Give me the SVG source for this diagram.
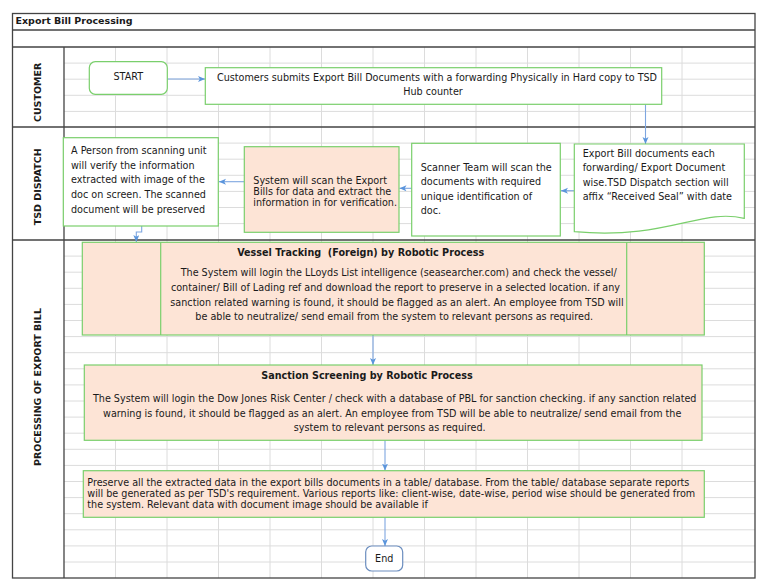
<svg xmlns="http://www.w3.org/2000/svg" width="769" height="587" viewBox="0 0 769 587">
<defs>
<style>
.t{font-family:"DejaVu Sans","Liberation Sans",sans-serif;font-size:9.65px;fill:#1a1a1a}
.l{font-size:9.5px}
.b{font-weight:bold}
.c{text-anchor:middle}
.pre{white-space:pre}
.lane{fill:none;stroke:#444;stroke-width:1.3}
.grid{stroke:#dcdcdc;stroke-width:1;fill:none}
.box{fill:#fff;stroke:#7acf6c;stroke-width:1.2}
.pe{fill:#fde4d6;stroke:#7acf6c;stroke-width:1.2}
.con{fill:none;stroke:#7ea6e0;stroke-width:1.1;marker-end:url(#ah)}
</style>
<marker id="ah" markerWidth="8" markerHeight="8" refX="7" refY="3" orient="auto" markerUnits="userSpaceOnUse">
<path d="M0,0 L7,3 L0,6 L1.8,3 Z" fill="#5b95dc"/>
</marker>
</defs>
<rect width="769" height="587" fill="#fff"/>
<g id="grid" class="grid">
<path d="M64,63.1H755M64,79.2H755M64,95.3H755M64,111.4H755M64,143.1H755M64,159.2H755M64,175.3H755M64,191.4H755M64,207.5H755M64,223.6H755M64,256.1H755M64,272.2H755M64,288.3H755M64,304.4H755M64,320.5H755M64,336.6H755M64,352.7H755M64,368.8H755M64,384.9H755M64,401H755M64,417.1H755M64,433.2H755M64,449.3H755M64,465.4H755M64,481.5H755M64,497.6H755M64,513.7H755M64,529.8H755M64,545.9H755M64,562H755"/>
<path d="M115.5,47V578M167,47V578M218.5,47V578M270,47V578M321.5,47V578M373,47V578M424.5,47V578M476,47V578M527.5,47V578M579,47V578M630.5,47V578M682,47V578"/>
</g>
<g id="pool">
<rect class="lane" x="12.5" y="13.5" width="742.5" height="564.5"/>
<path class="lane" d="M12.5,30H755M12.5,47H755M12.5,127H755M12.5,240H755M64,47V578"/>
<text class="t l b" x="15.5" y="23.5">Export Bill Processing</text>
<text class="t l b c" transform="translate(40.5,92.4) rotate(-90)">CUSTOMER</text>
<text class="t l b c" transform="translate(40.5,186.8) rotate(-90)">TSD DISPATCH</text>
<text class="t l b c" transform="translate(40.5,387) rotate(-90)">PROCESSING OF EXPORT BILL</text>
</g>
<g id="connectors">
<path class="con" d="M167.3,79H205"/>
<path class="con" d="M645.5,104.3V144"/>
<path class="con" d="M574.3,190.7H561"/>
<path class="con" d="M411.7,188.3H399.5"/>
<path class="con" d="M244.3,181.7H219"/>
<path class="con" d="M141.7,226V232H136.3V242"/>
<path class="con" d="M373,335V365"/>
<path class="con" d="M385,440.3V470.5"/>
<path class="con" d="M385,517.3V546"/>
</g>
<g id="start">
<rect x="89.3" y="61.7" width="78" height="32.6" rx="6" fill="#fff" stroke="#7acf6c" stroke-width="1.2"/>
<text class="t c" x="128.3" y="79.5">START</text>
</g>
<g id="customer-submits">
<rect class="box" x="205.3" y="67.7" width="456.4" height="36.6"/>
<text class="t c" x="437" y="80.5">Customers submits Export Bill Documents with a forwarding Physically in Hard copy to TSD</text>
<text class="t c" x="433" y="95">Hub counter</text>
</g>
<g id="export-bill-docs">
<path class="box" d="M574.3,144H744.3V218.3C700,208 668,240 574.3,231.7Z"/>
<text class="t" x="582.7" y="156.8">Export Bill documents each</text>
<text class="t" x="582.7" y="171.2">forwarding/ Export Document</text>
<text class="t" x="582.7" y="185.8">wise.TSD Dispatch section will</text>
<text class="t" x="582.7" y="200.2">affix “Received Seal” with date</text>
</g>
<g id="scanner-team">
<rect class="box" x="411.7" y="143.3" width="148.6" height="92.7"/>
<text class="t" x="420.7" y="170.8">Scanner Team will scan the</text>
<text class="t" x="420.7" y="185.2">documents with required</text>
<text class="t" x="420.7" y="199.5">unique identification of</text>
<text class="t" x="420.7" y="213.5">doc.</text>
</g>
<g id="system-scan">
<rect class="pe" x="244.3" y="146.7" width="154.7" height="85.6"/>
<text class="t" x="253.3" y="183.5">System will scan the Export</text>
<text class="t" x="253.3" y="194.5">Bills for data and extract the</text>
<text class="t" x="253.3" y="205.8">information in for verification.</text>
</g>
<g id="person-verify">
<rect class="box" x="63.3" y="137.7" width="155" height="88.3"/>
<text class="t" x="71" y="154.2">A Person from scanning unit</text>
<text class="t" x="71" y="168.5">will verify the information</text>
<text class="t" x="71" y="182.8">extracted with image of the</text>
<text class="t" x="71" y="197.8">doc on screen. The scanned</text>
<text class="t" x="71" y="212.5">document will be preserved</text>
</g>
<g id="vessel-tracking">
<rect class="pe" x="82.3" y="242.3" width="622" height="92.7"/>
<path class="pe" d="M160.7,242.3V335M626.7,242.3V335"/>
<text class="t b c pre" x="360.7" y="255.8">Vessel Tracking  (Foreign) by Robotic Process</text>
<text class="t c" x="398.7" y="276.2">The System will login the LLoyds List intelligence (seasearcher.com) and check the vessel/</text>
<text class="t c" x="395.5" y="290.8">container/ Bill of Lading ref and download the report to preserve in a selected location. if any</text>
<text class="t c" x="397" y="305.5">sanction related warning is found, it should be flagged as an alert. An employee from TSD will</text>
<text class="t c" x="394.2" y="320.2">be able to neutralize/ send email from the system to relevant persons as required.</text>
</g>
<g id="sanction-screening">
<rect class="pe" x="84.3" y="365" width="617.7" height="75.3"/>
<text class="t b c" x="367" y="379.2">Sanction Screening by Robotic Process</text>
<text class="t c" x="394.7" y="402.2">The System will login the Dow Jones Risk Center / check with a database of PBL for sanction checking. if any sanction related</text>
<text class="t c" x="392.2" y="416.8">warning is found, it should be flagged as an alert. An employee from TSD will be able to neutralize/ send email from the</text>
<text class="t c" x="389.7" y="431.2">system to relevant persons as required.</text>
</g>
<g id="preserve-data">
<rect class="pe" x="83.3" y="470.7" width="621" height="46.6"/>
<text class="t" x="87.3" y="485.8">Preserve all the extracted data in the export bills documents in a table/ database. From the table/ database separate reports</text>
<text class="t" x="87.3" y="496.8">will be generated as per TSD's requirement. Various reports like: client-wise, date-wise, period wise should be generated from</text>
<text class="t" x="87.3" y="507.8">the system. Relevant data with document image should be available if</text>
</g>
<g id="end">
<rect x="365.7" y="546" width="37" height="25" rx="6" fill="#fff" stroke="#6c8ebf" stroke-width="1.2"/>
<text class="t c" x="384.2" y="561.5">End</text>
</g>
</svg>
